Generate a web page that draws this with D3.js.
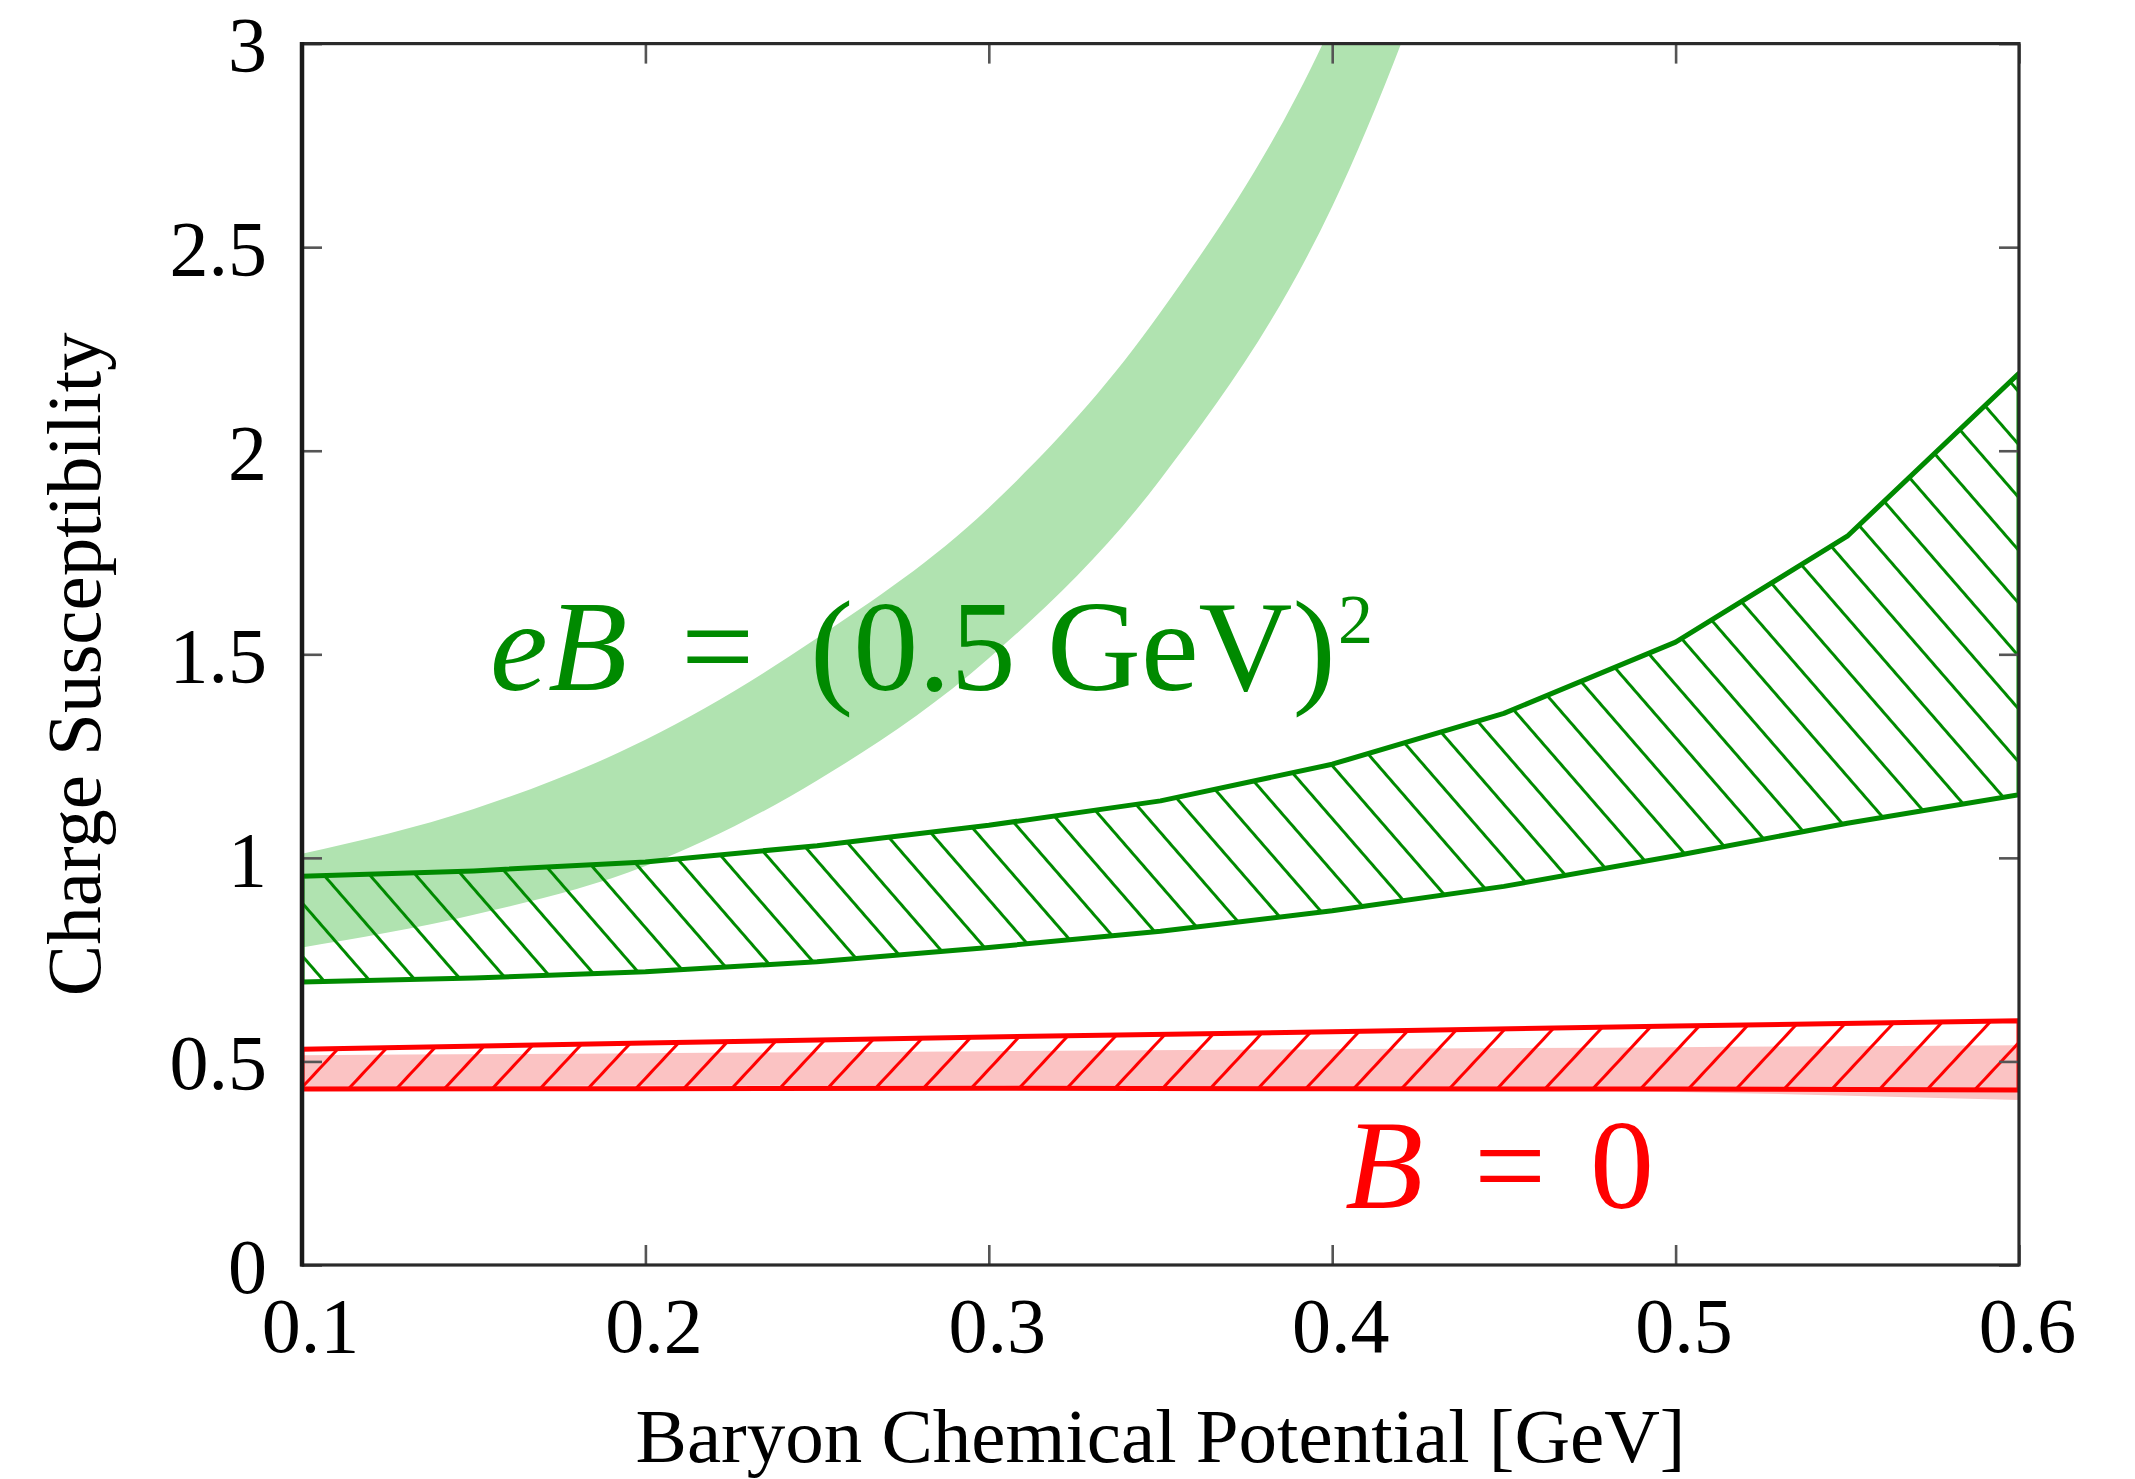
<!DOCTYPE html>
<html>
<head>
<meta charset="utf-8">
<script src="https://cdn.jsdelivr.net/npm/d3@7"></script>
<style>
  html, body { margin: 0; padding: 0; background: #fff; }
  svg { display: block; }
  text { font-family: "Liberation Serif", "Times New Roman", serif; }
</style>
</head>
<body>
<svg id="chart" width="2135" height="1479"></svg>
<script>
// Baryon chemical potential grid [GeV]
const muFine = [0.10, 0.15, 0.20, 0.25, 0.30, 0.35, 0.40, 0.45, 0.50, 0.55, 0.60];
const muCoarse = [0.10, 0.20, 0.30, 0.40, 0.50, 0.60];

// eB = (0.5 GeV)^2, solid light band (leaves the frame near 0.42 GeV)
const muStrong = [0.10, 0.15, 0.20, 0.25, 0.30, 0.35, 0.40, 0.45];
const strongHigh = [1.01, 1.12, 1.29, 1.54, 1.86, 2.34, 3.05, 4.20];
const strongLow  = [0.78, 0.86, 0.98, 1.19, 1.49, 1.93, 2.60, 3.70];

// eB = (0.5 GeV)^2, hatched band
const hatchGreenHigh = [0.955, 0.968, 0.990, 1.030, 1.080, 1.140, 1.230, 1.355, 1.530, 1.790, 2.190];
const hatchGreenLow  = [0.695, 0.705, 0.720, 0.745, 0.780, 0.820, 0.870, 0.930, 1.005, 1.085, 1.155];

// B = 0, solid light band
const zeroHigh = [0.515, 0.520, 0.525, 0.530, 0.535, 0.540];
const zeroLow  = [0.435, 0.440, 0.440, 0.435, 0.425, 0.405];

// B = 0, hatched band
const hatchRedHigh = [0.530, 0.545, 0.560, 0.573, 0.587, 0.600];
const hatchRedLow  = [0.432, 0.433, 0.434, 0.433, 0.432, 0.430];

// axes
const xTicks = [0.1, 0.2, 0.3, 0.4, 0.5, 0.6];
const yTicks = [0, 0.5, 1, 1.5, 2, 2.5, 3];
const xTitle = "Baryon Chemical Potential [GeV]";
const yTitle = "Charge Susceptibility";

const GREEN = "#008a00";
const LIGHT_GREEN = "#b0e3b0";
const RED = "#ff0000";
const PINK = "#fbc3c3";

const frameL = 302, frameR = 2019, frameT = 43.6, frameB = 1265;
const svg = d3.select("#chart");

const x = d3.scaleLinear().domain([0.1, 0.6]).range([frameL, frameR]);
const y = d3.scaleLinear().domain([0, 3]).range([frameB, frameT]);

const defs = svg.append("defs");
defs.append("clipPath").attr("id", "plotClip")
  .append("rect").attr("x", frameL).attr("y", frameT)
  .attr("width", frameR - frameL).attr("height", frameB - frameT);

// diagonal hatch patterns (lines rotated from horizontal)
function hatch(id, color, angle, spacing, width) {
  const p = defs.append("pattern")
    .attr("id", id)
    .attr("patternUnits", "userSpaceOnUse")
    .attr("width", 400).attr("height", spacing)
    .attr("patternTransform", `rotate(${angle})`);
  p.append("line")
    .attr("x1", -10).attr("x2", 410)
    .attr("y1", spacing / 2).attr("y2", spacing / 2)
    .attr("stroke", color).attr("stroke-width", width);
}
hatch("hatchGreen", GREEN, 49, 34.7, 3);
hatch("hatchRed", RED, -47, 35, 3);

function band(xs, lo, hi, curve) {
  const rows = xs.map((m, i) => ({ m, lo: lo[i], hi: hi[i] }));
  return d3.area()
    .x(d => x(d.m))
    .y0(d => y(d.lo))
    .y1(d => y(d.hi))
    .curve(curve)(rows);
}

const plot = svg.append("g").attr("clip-path", "url(#plotClip)");

// solid light bands
plot.append("path")
  .attr("d", band(muStrong, strongLow, strongHigh, d3.curveMonotoneX))
  .attr("fill", LIGHT_GREEN);

plot.append("path")
  .attr("d", band(muCoarse, zeroLow, zeroHigh, d3.curveMonotoneX))
  .attr("fill", PINK);

// hatched bands with outline
plot.append("path")
  .attr("d", band(muFine, hatchGreenLow, hatchGreenHigh, d3.curveLinear))
  .attr("fill", "url(#hatchGreen)")
  .attr("stroke", GREEN).attr("stroke-width", 5)
  .attr("stroke-linejoin", "round");

plot.append("path")
  .attr("d", band(muCoarse, hatchRedLow, hatchRedHigh, d3.curveLinear))
  .attr("fill", "url(#hatchRed)")
  .attr("stroke", RED).attr("stroke-width", 5)
  .attr("stroke-linejoin", "round");

// axes with inward ticks on all four sides
const tickLen = 20;
const fmtX = d3.format(".1f");
const fmtY = d3.format("~g");

const gx = svg.append("g").attr("transform", `translate(0,${frameB})`)
  .call(d3.axisBottom(x).tickValues(xTicks).tickSize(-tickLen).tickFormat(fmtX));
gx.selectAll("text").attr("y", 87).attr("dy", 0).attr("x", 8);

const gy = svg.append("g").attr("transform", `translate(${frameL},0)`)
  .call(d3.axisLeft(y).tickValues(yTicks).tickSize(-tickLen).tickFormat(fmtY));
gy.selectAll("text").attr("x", -35).attr("dy", "0.35em");

const gt = svg.append("g").attr("transform", `translate(0,${frameT})`)
  .call(d3.axisTop(x).tickValues(xTicks).tickSize(-tickLen).tickFormat(""));
const gr = svg.append("g").attr("transform", `translate(${frameR},0)`)
  .call(d3.axisRight(y).tickValues(yTicks).tickSize(-tickLen).tickFormat(""));

[gx, gy, gt, gr].forEach(g => {
  g.select(".domain").remove();
  g.selectAll(".tick line").attr("stroke", "#555").attr("stroke-width", 2.6);
  g.selectAll("text")
    .attr("fill", "#000")
    .attr("font-size", 78)
    .attr("font-family", "Liberation Serif, serif");
});

// frame
svg.append("rect")
  .attr("x", frameL).attr("y", frameT)
  .attr("width", frameR - frameL).attr("height", frameB - frameT)
  .attr("fill", "none").attr("stroke", "#2a2a2a").attr("stroke-width", 3.2);
svg.append("line")
  .attr("x1", frameL).attr("x2", frameL).attr("y1", frameT - 1.6).attr("y2", frameB + 1.6)
  .attr("stroke", "#1a1a1a").attr("stroke-width", 4.5);

// axis titles
svg.append("text")
  .attr("x", (frameL + frameR) / 2).attr("y", 1462)
  .attr("text-anchor", "middle").attr("font-size", 77)
  .text(xTitle);

svg.append("text")
  .attr("transform", `translate(100,${(frameT + frameB) / 2 + 10}) rotate(-90)`)
  .attr("text-anchor", "middle").attr("font-size", 77)
  .text(yTitle);

// in-plot annotations, one text element per label with placed runs
function note(runs, baseline, size, color) {
  const t = svg.append("text")
    .attr("y", baseline)
    .attr("font-size", size)
    .attr("fill", color);
  runs.forEach(r => {
    const s = t.append("tspan")
      .attr("x", r.x)
      .attr("y", r.y !== undefined ? r.y : baseline)
      .text(r.s);
    if (r.italic) s.attr("font-style", "italic");
    if (r.size) s.attr("font-size", r.size);
  });
}

note([
  { s: "e", x: 490, italic: true },
  { s: "B", x: 548, italic: true },
  { s: "=", x: 681 },
  { s: "(0.5", x: 810 },
  { s: "GeV)", x: 1047 },
  { s: "2", x: 1338, y: 643, size: 70 }
], 690, 130, GREEN);

note([
  { s: "B", x: 1345, italic: true },
  { s: "=", x: 1474 },
  { s: "0", x: 1590 }
], 1208, 128, RED);
</script>
</body>
</html>
